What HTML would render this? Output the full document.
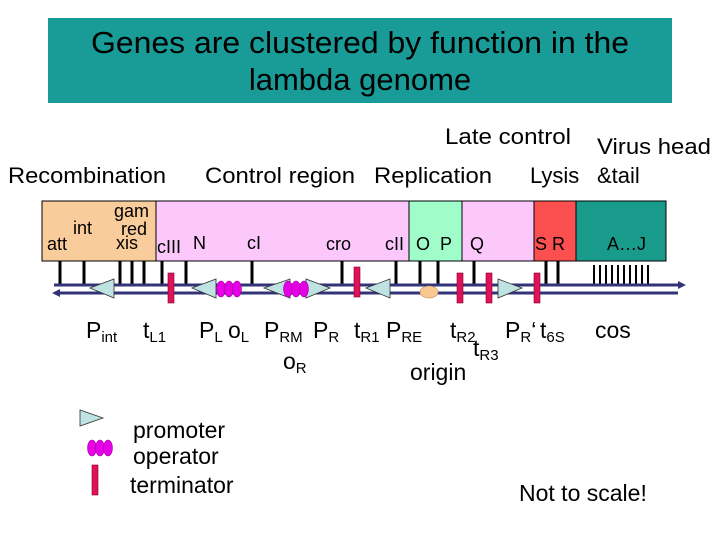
<!DOCTYPE html>
<html><head><style>
body{margin:0;background:#fff;}
svg text{font-family:"Liberation Sans",Arial,sans-serif;}
</style></head><body>
<svg width="720" height="540" viewBox="0 0 720 540" xmlns="http://www.w3.org/2000/svg">
<rect x="48" y="18" width="624" height="85" fill="#199b98"/>
<text x="360" y="53" font-size="31" text-anchor="middle" fill="#000" textLength="538" lengthAdjust="spacingAndGlyphs">Genes are clustered by function in the</text>
<text x="360" y="90" font-size="31" text-anchor="middle" fill="#000">lambda genome</text>

<g font-size="22" fill="#000">
<text x="445" y="144" textLength="126" lengthAdjust="spacingAndGlyphs">Late control</text>
<text x="597" y="154" textLength="114" lengthAdjust="spacingAndGlyphs">Virus head</text>
<text x="8" y="183" textLength="158" lengthAdjust="spacingAndGlyphs">Recombination</text>
<text x="205" y="183" textLength="150" lengthAdjust="spacingAndGlyphs">Control region</text>
<text x="374" y="183" textLength="118" lengthAdjust="spacingAndGlyphs">Replication</text>
<text x="530" y="183">Lysis</text>
<text x="597" y="183">&amp;tail</text>
</g>

<g stroke="#000" stroke-width="1">
<rect x="42" y="201" width="114" height="60" fill="#f9cc9c"/>
<rect x="156" y="201" width="253" height="60" fill="#fcc8fc"/>
<rect x="409" y="201" width="53" height="60" fill="#a0fcc8"/>
<rect x="462" y="201" width="72" height="60" fill="#fcc8fc"/>
<rect x="534" y="201" width="42" height="60" fill="#fc5050"/>
<rect x="576" y="201" width="90" height="60" fill="#199b8c"/>
</g>
<g font-size="18" fill="#000">
<text x="47" y="250">att</text>
<text x="73" y="234">int</text>
<text x="114" y="217">gam</text>
<text x="121" y="235">red</text>
<text x="116" y="249">xis</text>
<text x="157" y="253">cIII</text>
<text x="193" y="249">N</text>
<text x="247" y="249">cI</text>
<text x="326" y="250">cro</text>
<text x="385" y="250">cII</text>
<text x="416" y="250">O</text>
<text x="440" y="250">P</text>
<text x="470" y="250">Q</text>
<text x="535" y="250">S R</text>
<text x="607" y="250">A…J</text>
</g>

<g stroke="#000" stroke-width="3">
<line x1="60" y1="261" x2="60" y2="285"/><line x1="84" y1="261" x2="84" y2="285"/>
<line x1="120" y1="261" x2="120" y2="285"/><line x1="132" y1="261" x2="132" y2="285"/>
<line x1="144" y1="261" x2="144" y2="285"/><line x1="162" y1="261" x2="162" y2="285"/>
<line x1="186" y1="261" x2="186" y2="285"/><line x1="252" y1="261" x2="252" y2="285"/>
<line x1="342" y1="261" x2="342" y2="285"/><line x1="396" y1="261" x2="396" y2="285"/>
<line x1="420" y1="261" x2="420" y2="285"/><line x1="438" y1="261" x2="438" y2="285"/>
<line x1="474" y1="261" x2="474" y2="285"/><line x1="546" y1="261" x2="546" y2="285"/>
<line x1="558" y1="261" x2="558" y2="285"/>
</g>
<g stroke="#000" stroke-width="2">
<line x1="594" y1="265" x2="594" y2="285"/><line x1="600" y1="265" x2="600" y2="285"/>
<line x1="606" y1="265" x2="606" y2="285"/><line x1="612" y1="265" x2="612" y2="285"/>
<line x1="618" y1="265" x2="618" y2="285"/><line x1="624" y1="265" x2="624" y2="285"/>
<line x1="630" y1="265" x2="630" y2="285"/><line x1="636" y1="265" x2="636" y2="285"/>
<line x1="642" y1="265" x2="642" y2="285"/><line x1="648" y1="265" x2="648" y2="285"/>
</g>

<g stroke="#33337a" stroke-width="3">
<line x1="54" y1="285" x2="680" y2="285"/>
<line x1="58" y1="293" x2="678" y2="293"/>
</g>
<polygon points="52,293 60,289 60,297" fill="#33337a"/>
<polygon points="686,285 678,281 678,289" fill="#33337a"/>

<g fill="#bfe3e3" stroke="#333" stroke-width="0.8">
<polygon points="90,288 114,279 114,298"/>
<polygon points="192,288 216,279 216,298"/>
<polygon points="264,288 290,279 290,298"/>
<polygon points="330,288 306,279 306,298"/>
<polygon points="366,288 390,279 390,298"/>
<polygon points="522,288 498,279 498,298"/>
</g>
<g fill="#e600e6" stroke="#a000a0" stroke-width="0.6">
<ellipse cx="221" cy="289" rx="4.5" ry="8"/><ellipse cx="229" cy="289" rx="4.5" ry="8"/><ellipse cx="237" cy="289" rx="4.5" ry="8"/>
<ellipse cx="288" cy="289" rx="4.5" ry="8"/><ellipse cx="296" cy="289" rx="4.5" ry="8"/><ellipse cx="304" cy="289" rx="4.5" ry="8"/>
</g>
<ellipse cx="429" cy="292" rx="9" ry="6" fill="#f9c890" stroke="#c09060" stroke-width="0.6"/>
<g fill="#e0105a" stroke="#800030" stroke-width="0.6">
<rect x="168" y="273" width="6" height="30"/>
<rect x="354" y="267" width="6" height="30"/>
<rect x="457" y="273" width="6" height="30"/>
<rect x="486" y="273" width="6" height="30"/>
<rect x="534" y="273" width="6" height="30"/>
</g>

<g font-size="23" fill="#000">
<text x="86" y="338">P<tspan font-size="15" dy="4">int</tspan></text>
<text x="143" y="338">t<tspan font-size="15" dy="4">L1</tspan></text>
<text x="199" y="338">P<tspan font-size="15" dy="4">L</tspan></text>
<text x="228" y="338">o<tspan font-size="15" dy="4">L</tspan></text>
<text x="264" y="338">P<tspan font-size="15" dy="4">RM</tspan></text>
<text x="313" y="338">P<tspan font-size="15" dy="4">R</tspan></text>
<text x="354" y="338">t<tspan font-size="15" dy="4">R1</tspan></text>
<text x="386" y="338">P<tspan font-size="15" dy="4">RE</tspan></text>
<text x="450" y="338">t<tspan font-size="15" dy="4">R2</tspan></text>
<text x="505" y="338">P<tspan font-size="15" dy="4">R</tspan><tspan dy="-4">‘</tspan></text>
<text x="540" y="338">t<tspan font-size="15" dy="4">6S</tspan></text>
<text x="595" y="338">cos</text>
<text x="473" y="356">t<tspan font-size="15" dy="4">R3</tspan></text>
<text x="283" y="369">o<tspan font-size="15" dy="4">R</tspan></text>
<text x="410" y="380">origin</text>
</g>

<polygon points="103,418 80,410 80,426" fill="#bfe3e3" stroke="#333" stroke-width="0.8"/>
<g fill="#e600e6" stroke="#a000a0" stroke-width="0.6">
<ellipse cx="92" cy="448" rx="4.5" ry="8"/><ellipse cx="100" cy="448" rx="4.5" ry="8"/><ellipse cx="108" cy="448" rx="4.5" ry="8"/>
</g>
<rect x="92" y="465" width="6" height="30" fill="#e0105a" stroke="#800030" stroke-width="0.6"/>
<g font-size="23" fill="#000">
<text x="133" y="438">promoter</text>
<text x="133" y="464">operator</text>
<text x="130" y="493">terminator</text>
<text x="519" y="501">Not to scale!</text>
</g>
</svg>
</body></html>
